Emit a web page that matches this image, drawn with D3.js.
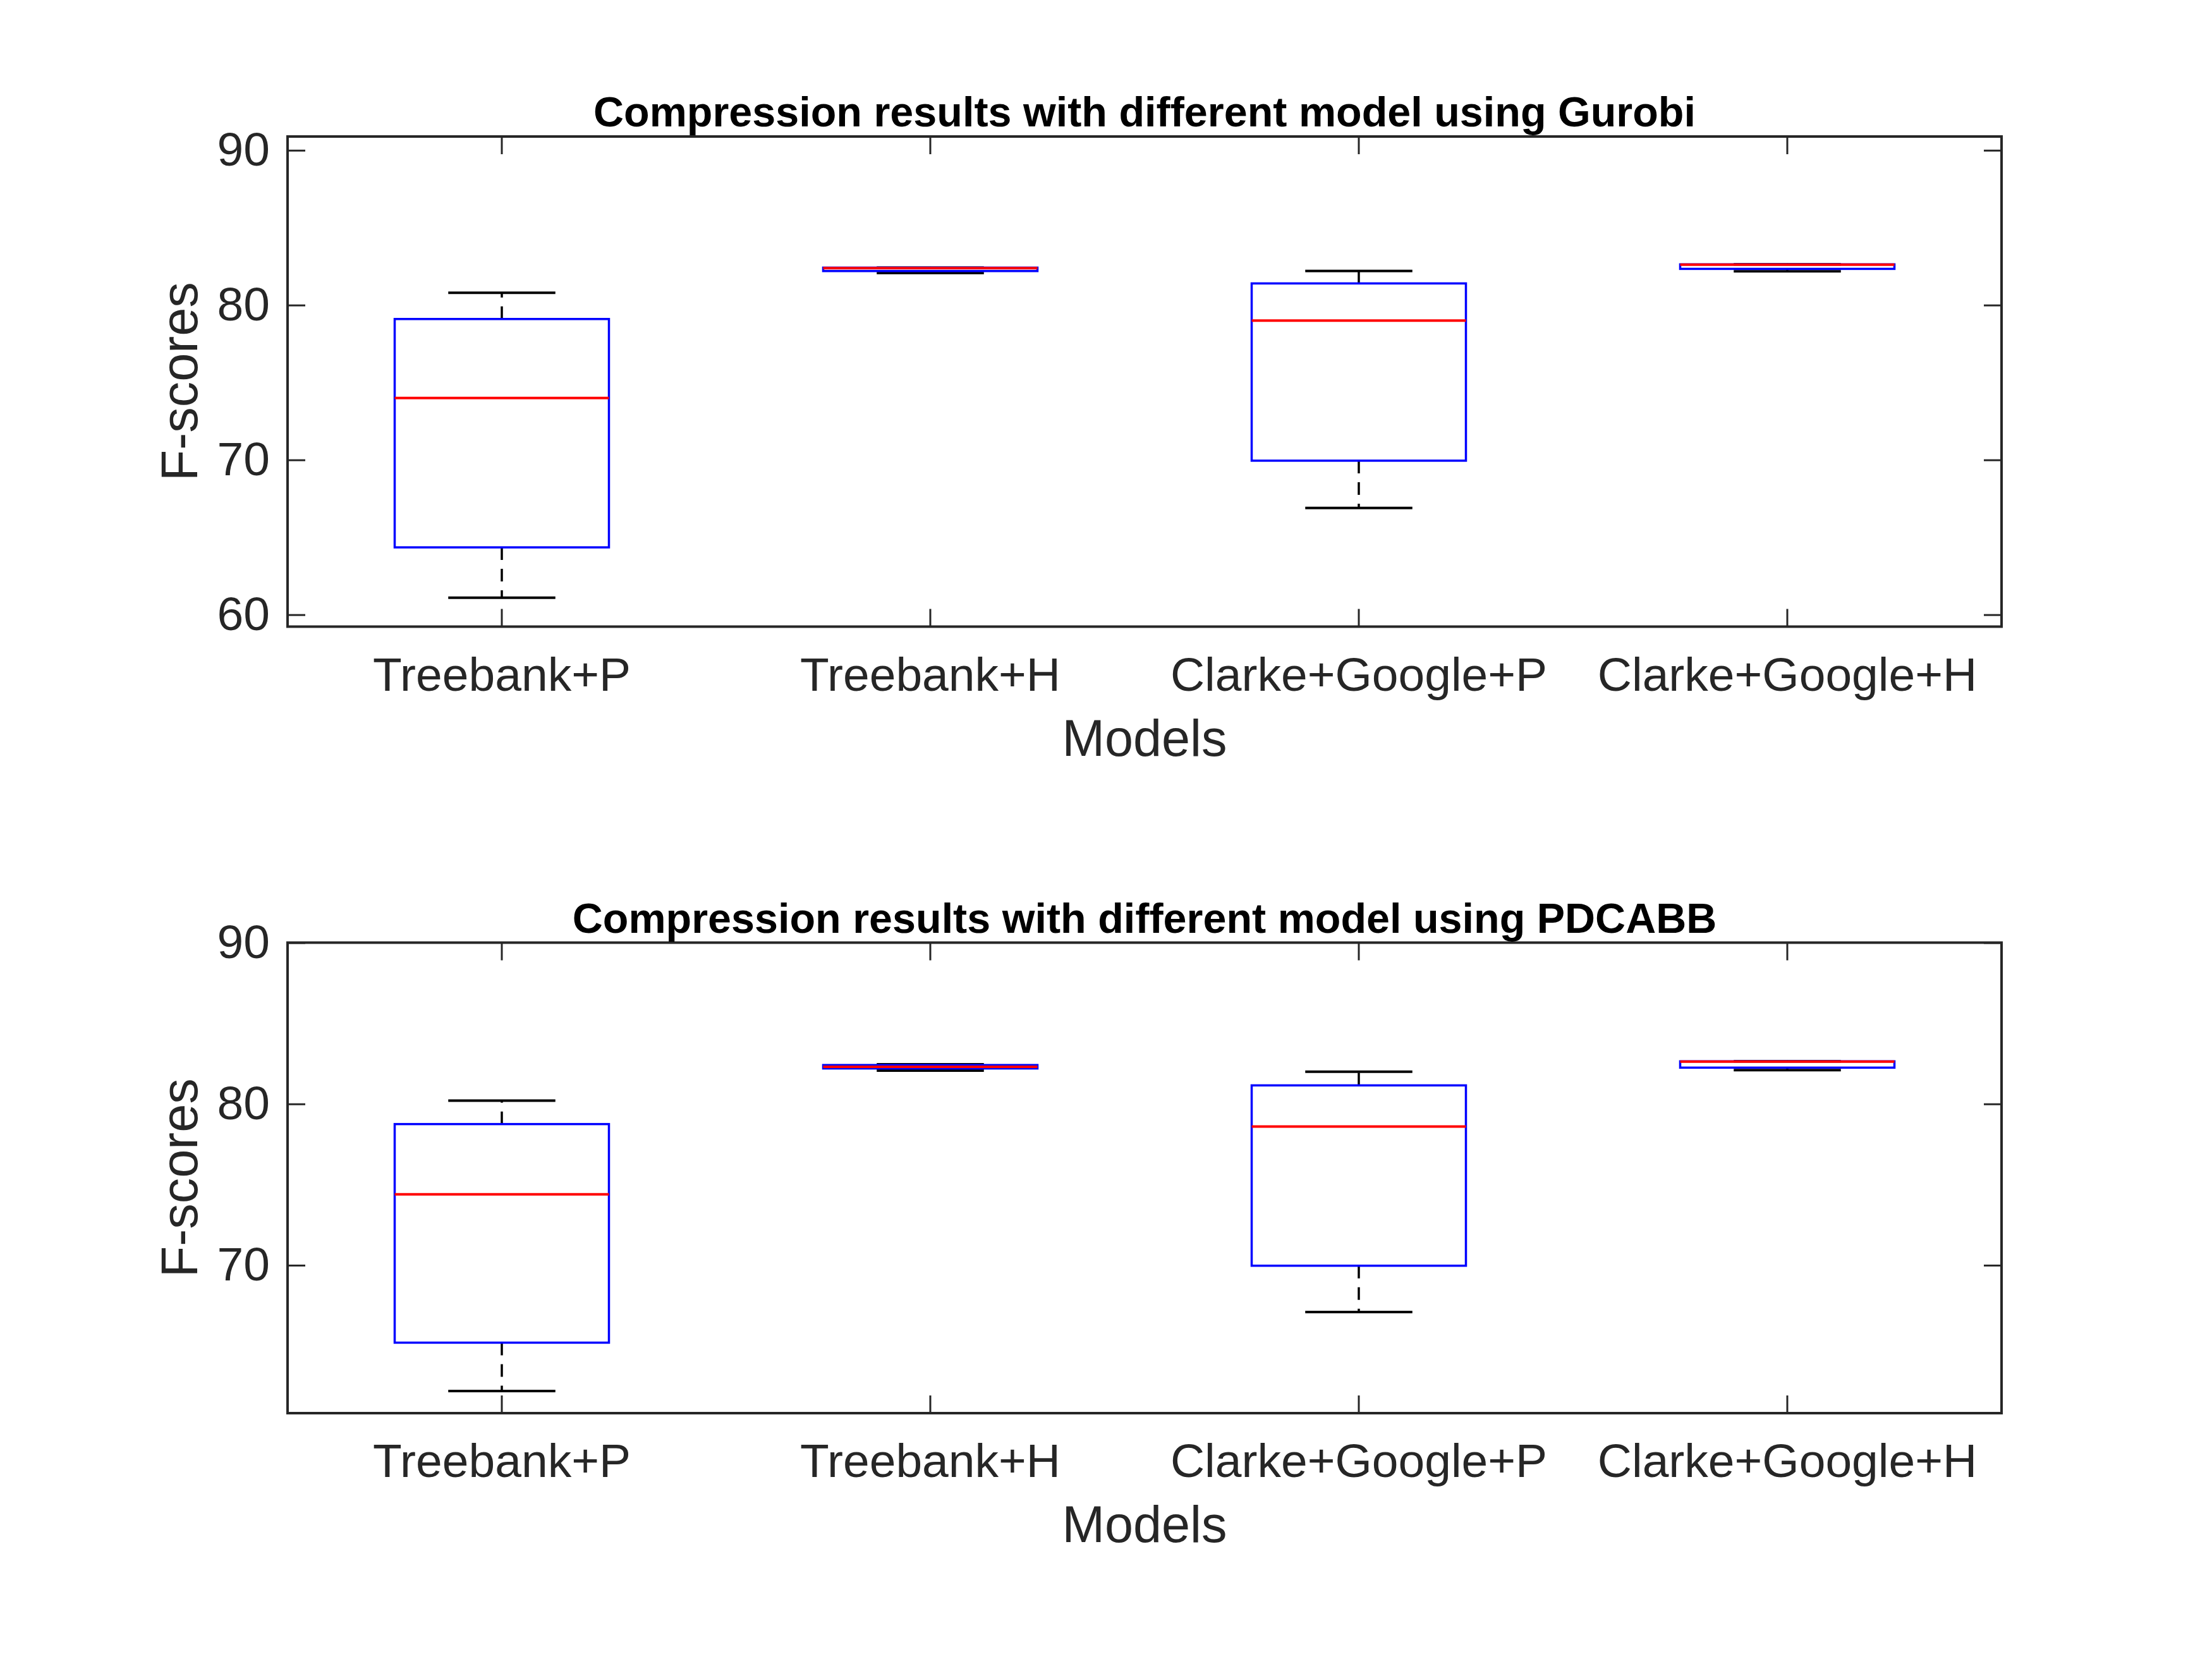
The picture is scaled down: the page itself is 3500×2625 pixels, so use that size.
<!DOCTYPE html>
<html>
<head>
<meta charset="utf-8">
<script src="https://cdn.jsdelivr.net/npm/d3@7/dist/d3.min.js"></script>
<style>
  html, body { margin: 0; padding: 0; background: #fff; }
  svg { display: block; }
</style>
</head>
<body>
<script>
// ---------- data ----------
const categories = ["Treebank+P", "Treebank+H", "Clarke+Google+P", "Clarke+Google+H"];

const gurobiLowerWhisker = [61.1, 82.07, 66.9, 82.18];
const gurobiQ1           = [64.35, 82.2, 69.95, 82.34];
const gurobiMedian       = [74.0, 82.39, 79.0, 82.61];
const gurobiQ3           = [79.1, 82.42, 81.4, 82.63];
const gurobiUpperWhisker = [80.8, 82.42, 82.2, 82.63];

const pdcabbLowerWhisker = [62.2, 82.07, 67.1, 82.1];
const pdcabbQ1           = [65.2, 82.2, 69.97, 82.25];
const pdcabbMedian       = [74.4, 82.3, 78.6, 82.62];
const pdcabbQ3           = [78.75, 82.41, 81.15, 82.64];
const pdcabbUpperWhisker = [80.2, 82.46, 82.0, 82.64];

const gurobiYTicks = [60, 70, 80, 90];
const pdcabbYTicks = [70, 80, 90];
const gurobiYDomain = [59.23, 90.89];
const pdcabbYDomain = [60.83, 90];

const titles = [
  "Compression results with different model using Gurobi",
  "Compression results with different model using PDCABB"
];
const xLabel = "Models";
const yLabel = "F-scores";

// ---------- layout ----------
const W = 3500, H = 2625;
const svg = d3.select("body").append("svg").attr("width", W).attr("height", H)
  .style("font-family", "'Liberation Sans', Arial, Helvetica, sans-serif");

const panels = [
  { top: 216, bottom: 991.5, domain: gurobiYDomain, ticks: gurobiYTicks, title: titles[0],
    lw: gurobiLowerWhisker, q1: gurobiQ1, med: gurobiMedian, q3: gurobiQ3, uw: gurobiUpperWhisker },
  { top: 1491.5, bottom: 2236, domain: pdcabbYDomain, ticks: pdcabbYTicks, title: titles[1],
    lw: pdcabbLowerWhisker, q1: pdcabbQ1, med: pdcabbMedian, q3: pdcabbQ3, uw: pdcabbUpperWhisker }
];

const left = 455, right = 3167;
const axisColor = "#262626";
const tickLen = 28;
const tickFont = 75;
const labelFont = 81;

panels.forEach(p => {
  const g = svg.append("g");
  const x = d3.scaleBand().domain(categories).range([left, right]).paddingInner(0).paddingOuter(0);
  const y = d3.scaleLinear().domain(p.domain).range([p.bottom, p.top]);
  const bw = x.bandwidth();
  const boxW = bw * 0.5;
  const capW = bw * 0.25;
  const cx = c => x(c) + bw / 2;

  const data = categories.map((c, i) => ({
    c, lw: p.lw[i], q1: p.q1[i], med: p.med[i], q3: p.q3[i], uw: p.uw[i]
  }));

  // whiskers (dashed)
  g.selectAll(".wu").data(data).enter().append("line")
    .attr("x1", d => cx(d.c)).attr("x2", d => cx(d.c))
    .attr("y1", d => y(d.q3)).attr("y2", d => y(d.uw))
    .attr("stroke", "#000").attr("stroke-width", 3.5).attr("stroke-dasharray", "20,14");
  g.selectAll(".wl").data(data).enter().append("line")
    .attr("x1", d => cx(d.c)).attr("x2", d => cx(d.c))
    .attr("y1", d => y(d.q1)).attr("y2", d => y(d.lw))
    .attr("stroke", "#000").attr("stroke-width", 3.5).attr("stroke-dasharray", "20,14");
  // caps
  ["uw", "lw"].forEach(k => {
    g.selectAll(".cap" + k).data(data).enter().append("line")
      .attr("x1", d => cx(d.c) - capW / 2).attr("x2", d => cx(d.c) + capW / 2)
      .attr("y1", d => y(d[k])).attr("y2", d => y(d[k]))
      .attr("stroke", "#000").attr("stroke-width", 4);
  });
  // boxes
  g.selectAll(".box").data(data).enter().append("rect")
    .attr("x", d => cx(d.c) - boxW / 2).attr("width", boxW)
    .attr("y", d => y(d.q3)).attr("height", d => Math.max(0, y(d.q1) - y(d.q3)))
    .attr("fill", "none").attr("stroke", "#0000ff").attr("stroke-width", 3.5);
  // medians
  g.selectAll(".med").data(data).enter().append("line")
    .attr("x1", d => cx(d.c) - boxW / 2).attr("x2", d => cx(d.c) + boxW / 2)
    .attr("y1", d => y(d.med)).attr("y2", d => y(d.med))
    .attr("stroke", "#ff0000").attr("stroke-width", 4);

  // axes frame
  g.append("rect").attr("x", left).attr("y", p.top)
    .attr("width", right - left).attr("height", p.bottom - p.top)
    .attr("fill", "none").attr("stroke", axisColor).attr("stroke-width", 4);

  // bottom axis (ticks inward)
  const xb = d3.axisBottom(x).tickSize(-tickLen).tickPadding(48);
  const gx = g.append("g").attr("transform", `translate(0,${p.bottom})`).call(xb);
  gx.select(".domain").remove();
  gx.selectAll("line").attr("stroke", axisColor).attr("stroke-width", 3);
  gx.selectAll("text").attr("fill", axisColor).style("font-size", tickFont + "px");
  // top axis ticks
  const xt = d3.axisTop(x).tickSize(-tickLen).tickFormat("");
  const gxt = g.append("g").attr("transform", `translate(0,${p.top})`).call(xt);
  gxt.select(".domain").remove();
  gxt.selectAll("line").attr("stroke", axisColor).attr("stroke-width", 3);

  // left axis
  const yl = d3.axisLeft(y).tickValues(p.ticks).tickSize(-tickLen).tickPadding(28);
  const gy = g.append("g").attr("transform", `translate(${left},0)`).call(yl);
  gy.select(".domain").remove();
  gy.selectAll("line").attr("stroke", axisColor).attr("stroke-width", 3);
  gy.selectAll("text").attr("fill", axisColor).style("font-size", tickFont + "px");
  // right axis ticks
  const yr = d3.axisRight(y).tickValues(p.ticks).tickSize(-tickLen).tickFormat("");
  const gyr = g.append("g").attr("transform", `translate(${right},0)`).call(yr);
  gyr.select(".domain").remove();
  gyr.selectAll("line").attr("stroke", axisColor).attr("stroke-width", 3);

  // title
  g.append("text").attr("x", (left + right) / 2).attr("y", p.top - 16)
    .attr("text-anchor", "middle").attr("fill", "#000")
    .style("font-size", "66.5px").style("font-weight", "bold").text(p.title);

  // x label
  g.append("text").attr("x", (left + right) / 2).attr("y", p.bottom + 204)
    .attr("text-anchor", "middle").attr("fill", axisColor)
    .style("font-size", labelFont + "px").text(xLabel);

  // y label
  const cy = (p.top + p.bottom) / 2;
  g.append("text").attr("transform", `translate(312,${cy}) rotate(-90)`)
    .attr("text-anchor", "middle").attr("fill", axisColor)
    .style("font-size", labelFont + "px").text(yLabel);
});
</script>
</body>
</html>
